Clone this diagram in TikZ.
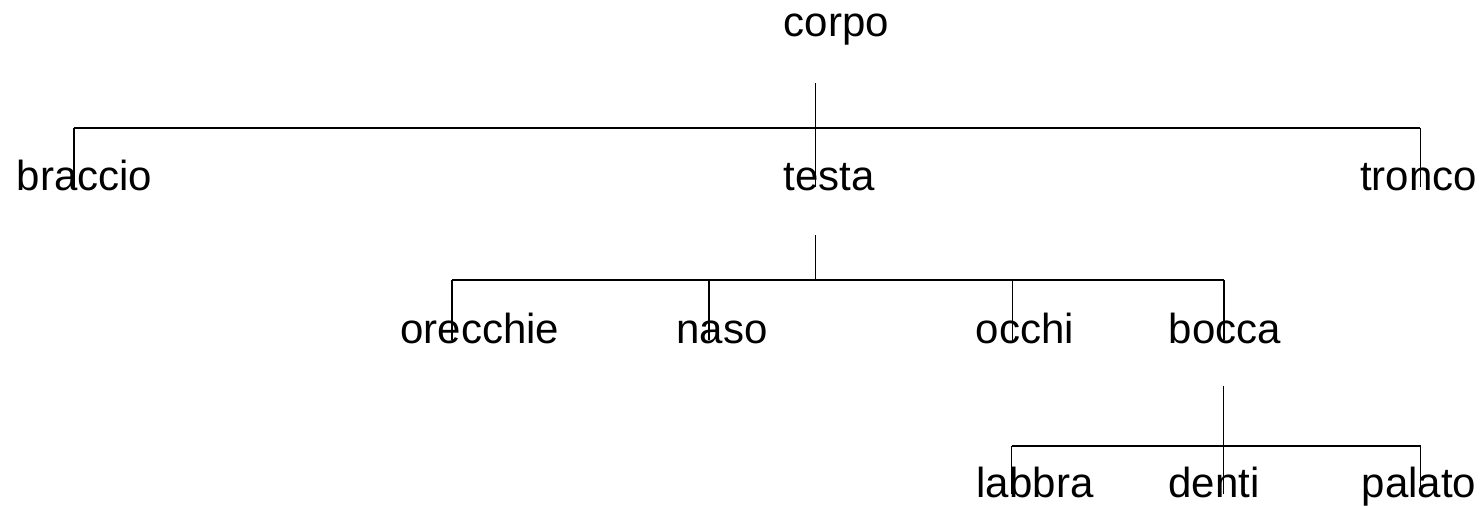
\documentclass[tikz,border=0pt]{standalone}
\usepackage{fontspec}
\setmainfont{Liberation Sans}
\usepackage{tikz}

\begin{document}
\begin{tikzpicture}[x=0.5pt,y=-0.5pt]
    \tikzset{part/.style={anchor=base,inner sep=0pt,font=\fontsize{21}{25}\selectfont},
             bar/.style={line width=1pt},
             stem/.style={line width=0.75pt},
             drop/.style={line width=0.65pt}}
    \useasboundingbox (0,0) rectangle (1483,505);
    % labels
    \node[part] (corpo) at (836.5,36) {corpo};
    \node[part] (braccio) at (84.5,190) {braccio};
    \node[part] (testa) at (829,190) {testa};
    \node[part] (tronco) at (1418.5,190) {tronco};
    \node[part] (orecchie) at (480,343) {orecchie};
    \node[part] (naso) at (722,343) {naso};
    \node[part] (occhi) at (1025,343) {occhi};
    \node[part] (bocca) at (1225,343) {bocca};
    \node[part] (labbra) at (1035,497) {labbra};
    \node[part] (denti) at (1214,497) {denti};
    \node[part] (palato) at (1419,497) {palato};
    % taps on the bars
    \coordinate (t-braccio) at (74,128);
    \coordinate (t-testa) at (815.7,128);
    \coordinate (t-tronco) at (1420.3,128);
    \coordinate (t-orecchie) at (452,280);
    \coordinate (t-naso) at (709,280);
    \coordinate (t-occhi) at (1012.7,280);
    \coordinate (t-bocca) at (1224,280);
    \coordinate (t-labbra) at (1011.7,446);
    \coordinate (t-denti) at (1223.5,446);
    \coordinate (t-palato) at (1420.7,446);
    % stems under parents
    \coordinate (s-corpo) at (815.7,83);
    \coordinate (s-testa) at (815.7,235);
    \coordinate (s-bocca) at (1223.5,386);
    \draw[stem] (s-corpo) -- (t-testa);
    \draw[stem] (s-testa) -- (s-testa |- t-orecchie);
    \draw[stem] (s-bocca) -- (t-denti);
    % bars
    \draw[bar] (t-braccio) -- (t-tronco);
    \draw[bar] (t-orecchie) -- (t-bocca);
    \draw[bar] (t-labbra) -- (t-palato);
    % drops to children
    \foreach \n in {braccio,testa,tronco,orecchie,naso,occhi,bocca,labbra,denti,palato}
      \draw[drop] (t-\n) -- ([yshift=1.5pt]t-\n |- \n.base);
\end{tikzpicture}
\end{document}
